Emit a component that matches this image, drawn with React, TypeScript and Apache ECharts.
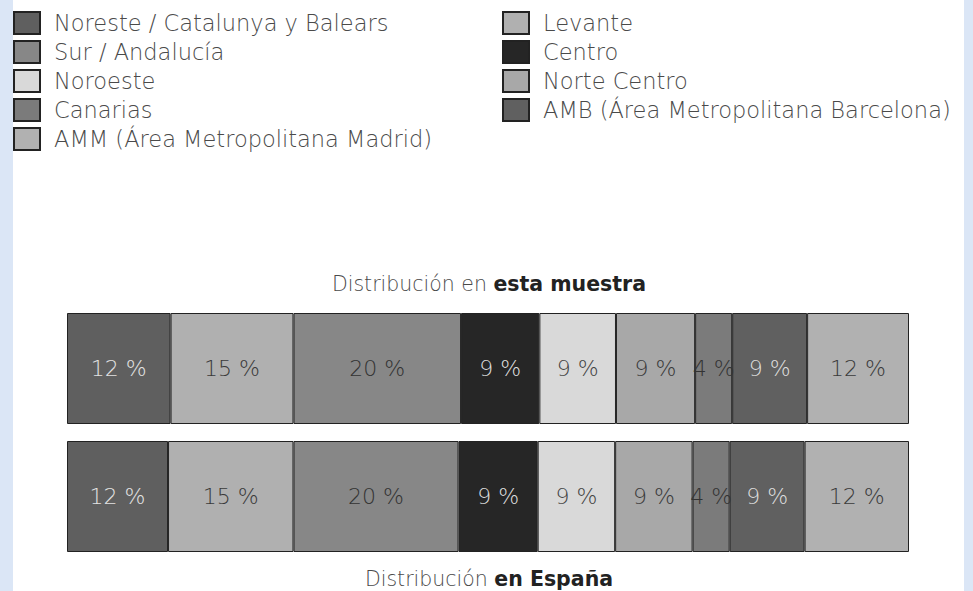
import React, { useEffect, useRef } from "react";
import * as echarts from "echarts";

const rows = ["Distribución en esta muestra", "Distribución en España"];

const regions = [
  "Noreste / Catalunya y Balears",
  "Levante",
  "Sur / Andalucía",
  "Centro",
  "Noroeste",
  "Norte Centro",
  "Canarias",
  "AMB (Área Metropolitana Barcelona)",
  "AMM (Área Metropolitana Madrid)",
];

const sampleValues = [12.3, 14.6, 19.9, 9.3, 9.1, 9.4, 4.4, 8.9, 12.1];
const spainValues = [12.0, 14.9, 19.6, 9.4, 9.2, 9.2, 4.4, 8.9, 12.4];

const regionColors = [
  "#5f5f5f",
  "#b0b0b0",
  "#878787",
  "#262626",
  "#d9d9d9",
  "#a8a8a8",
  "#7b7b7b",
  "#606060",
  "#b1b1b1",
];
const labelColors = [
  "#e2e2e2",
  "#3a3a3a",
  "#333333",
  "#dddddd",
  "#444444",
  "#3a3a3a",
  "#333333",
  "#dddddd",
  "#3a3a3a",
];

const legendLeft = [
  "Noreste / Catalunya y Balears",
  "Sur / Andalucía",
  "Noroeste",
  "Canarias",
  "AMM (Área Metropolitana Madrid)",
];
const legendRight = [
  "Levante",
  "Centro",
  "Norte Centro",
  "AMB (Área Metropolitana Barcelona)",
];

const FONT = "'DejaVu Sans', sans-serif";

export default function App() {
  const ref = useRef<HTMLDivElement>(null);
  useEffect(() => {
    document.body.style.margin = "0";
    const chart = echarts.init(ref.current!, undefined, { renderer: "svg" });
    const legendCommon = {
      orient: "vertical" as const,
      top: 6,
      itemWidth: 26,
      itemHeight: 22,
      itemGap: 5,
      icon: "rect",
      selectedMode: false,
      textStyle: {
        fontFamily: FONT,
        fontWeight: 200,
        fontSize: 22.5,
        lineHeight: 22,
        color: "#4a4a4a",
        padding: [0, 0, 0, 9],
      },
    };
    const titleRich = {
      a: { fontFamily: FONT, fontWeight: 200, fontSize: 20.5, lineHeight: 21, fill: "#4a4a4a" },
      b: { fontFamily: FONT, fontWeight: 700, fontSize: 20.5, lineHeight: 21, fill: "#222" },
    };
    chart.setOption({
      animation: false,
      backgroundColor: "#dbe6f6",
      graphic: [
        {
          type: "rect",
          z: -10,
          shape: { x: 13, y: -30, width: 951, height: 651, r: 22 },
          style: { fill: "#ffffff" },
          silent: true,
        },
        {
          type: "text",
          x: 489,
          y: 284,
          style: {
            text: "{a|Distribución en }{b|esta muestra}",
            rich: titleRich,
            align: "center",
            verticalAlign: "middle",
          },
        },
        {
          type: "text",
          x: 489,
          y: 579,
          style: {
            text: "{a|Distribución }{b|en España}",
            rich: titleRich,
            align: "center",
            verticalAlign: "middle",
          },
        },
      ],
      legend: [
        { ...legendCommon, left: 8, data: legendLeft },
        { ...legendCommon, left: 497, data: legendRight },
      ],
      grid: { left: 67, right: 64, top: 304.5, bottom: 30.5, containLabel: false },
      xAxis: { type: "value", min: 0, max: 100, show: false },
      yAxis: { type: "category", data: rows, inverse: true, show: false },
      series: regions.map((name, i) => ({
        name,
        type: "bar",
        stack: "total",
        barWidth: 111,
        data: [sampleValues[i], spainValues[i]],
        itemStyle: {
          color: regionColors[i],
          borderColor: "#222",
          borderWidth: 1,
        },
        label: {
          show: true,
          position: "inside",
          formatter: (p: any) => Math.round(p.value) + " %",
          fontFamily: FONT,
          fontWeight: 200,
          fontSize: 22,
          color: labelColors[i],
          overflow: "none",
          offset: [0, 1],
        },
        labelLayout: { hideOverlap: false },
      })),
    });
    return () => chart.dispose();
  }, []);
  return <div ref={ref} style={{ width: 973, height: 591 }} />;
}
